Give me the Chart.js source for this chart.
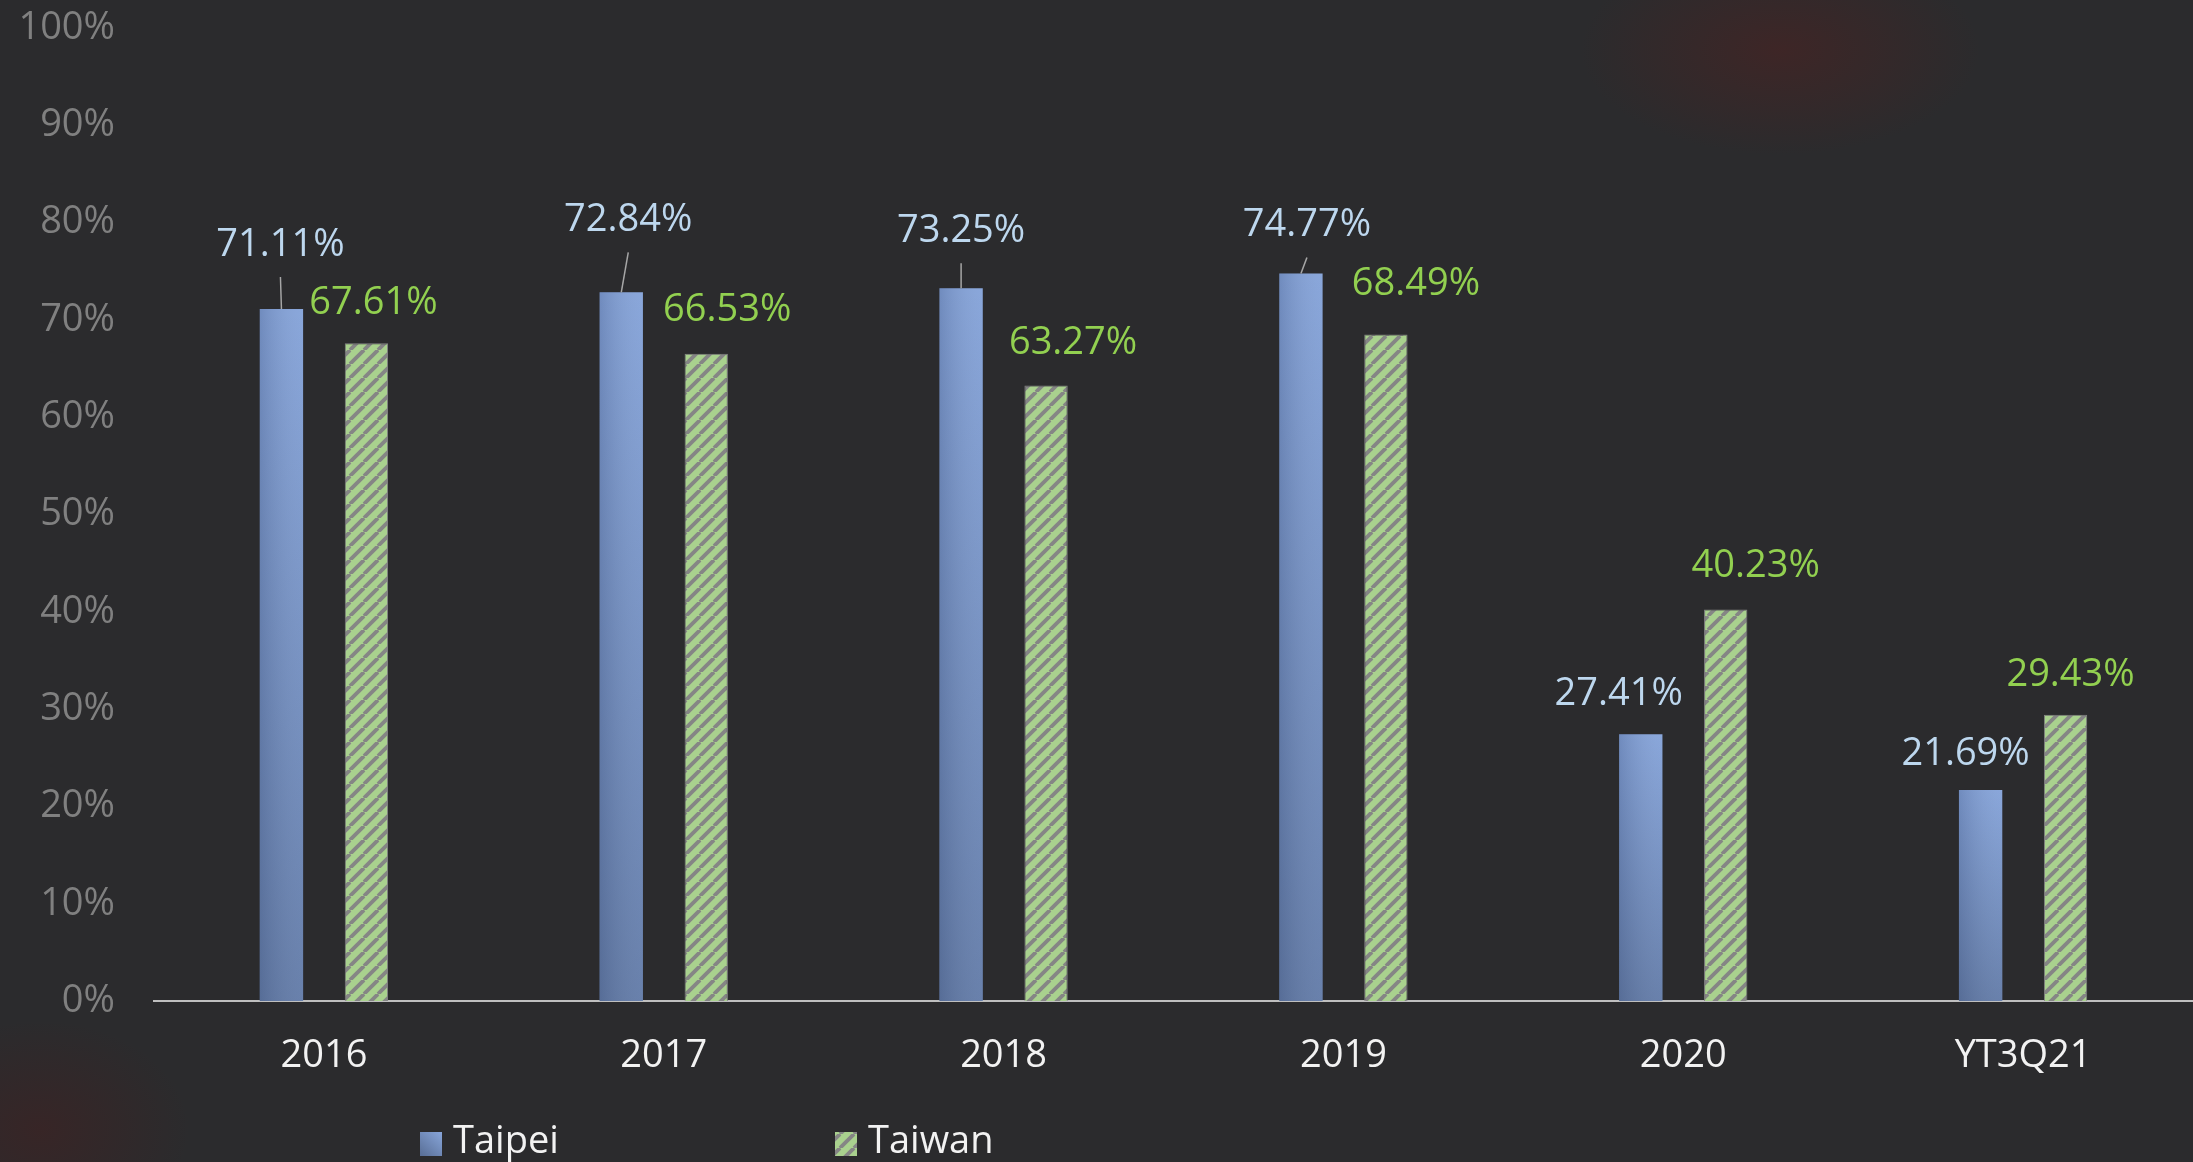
<!DOCTYPE html>
<html>
<head>
<meta charset="utf-8">
<title>Taipei vs Taiwan</title>
<script src="https://cdn.jsdelivr.net/npm/chart.js@4.4.0/dist/chart.umd.min.js"></script>
<style>
  html, body { margin: 0; padding: 0; width: 2193px; height: 1162px; overflow: hidden; }
  body {
    background:
      radial-gradient(ellipse 200px 105px at 1780px 50px, rgba(68, 36, 36, 0.75), rgba(68, 36, 36, 0) 100%),
      radial-gradient(ellipse 150px 110px at 40px 1130px, rgba(70, 30, 30, 0.45), rgba(70, 30, 30, 0) 100%),
      #2b2b2d;
  }
  #grafico { position: absolute; left: 0; top: 0; }
</style>
</head>
<body>
<canvas id="grafico" width="2193" height="1162"></canvas>
<script>
const categories = ["2016", "2017", "2018", "2019", "2020", "YT3Q21"];
const taipeiValues = [71.11, 72.84, 73.25, 74.77, 27.41, 21.69];
const taiwanValues = [67.61, 66.53, 63.27, 68.49, 40.23, 29.43];
const yTickValues = [0, 10, 20, 30, 40, 50, 60, 70, 80, 90, 100];

// where each data label was left, relative to the top of its bar (dx, dy, leader line)
const taipeiLabelNudge = [[-1, -64, true], [7, -72, true], [0, -57, true], [6, -48, true], [-22, -40], [-15, -36]];
const taiwanLabelNudge = [[7, -40], [21, -43], [27, -42], [30, -50], [30, -43], [5, -39]];

const FONT = "'Open Sans', 'Noto Sans', sans-serif";

// hatch for the Taiwan bars: green with grey "/" stripes
function hatchPattern() {
    const s = 14;
    const c = document.createElement("canvas");
    c.width = s; c.height = s;
    const g = c.getContext("2d");
    g.fillStyle = "#a9d18e";
    g.fillRect(0, 0, s, s);
    g.strokeStyle = "#858585";
    g.lineWidth = 3.8;
    for (let o = -1; o <= 1; o++) {
        g.beginPath();
        g.moveTo(o * s, s);
        g.lineTo(o * s + s, 0);
        g.stroke();
    }
    return g.createPattern(c, "repeat");
}

const canvas = document.getElementById("grafico");
const ctx = canvas.getContext("2d");
const hatch = hatchPattern();

// Taipei bars: light on the right, darker to the left and towards the bottom
const barShade = {
    id: "barShade",
    afterDatasetDraw(chart, args) {
        if (args.index !== 0) return;
        const c = chart.ctx;
        c.save();
        args.meta.data.forEach(bar => {
            const { x, y, base, width } = bar.getProps(["x", "y", "base", "width"], true);
            const left = x - width / 2;
            const h = c.createLinearGradient(left, 0, left + width, 0);
            h.addColorStop(0, "rgba(30, 40, 70, 0.18)");
            h.addColorStop(1, "rgba(255, 255, 255, 0.06)");
            c.fillStyle = h;
            c.fillRect(left, y, width, base - y);
            const v = c.createLinearGradient(0, y, 0, base);
            v.addColorStop(0, "rgba(20, 30, 50, 0)");
            v.addColorStop(1, "rgba(20, 30, 50, 0.28)");
            c.fillStyle = v;
            c.fillRect(left, y, width, base - y);
        });
        c.restore();
    }
};

const barLabels = {
    id: "barLabels",
    afterDatasetsDraw(chart) {
        const c = chart.ctx;
        c.save();
        c.font = "38px " + FONT;
        c.textAlign = "center";
        c.textBaseline = "middle";
        chart.data.datasets.forEach((ds, di) => {
            chart.getDatasetMeta(di).data.forEach((bar, i) => {
                const [dx, dy, leader] = ds.labelNudge[i];
                const lx = bar.x + dx, ly = bar.y + dy;
                if (leader) {
                    c.strokeStyle = "#a6a6a6";
                    c.lineWidth = 1.5;
                    c.beginPath();
                    c.moveTo(bar.x, bar.y);
                    c.lineTo(lx, ly + 32);
                    c.stroke();
                }
                c.fillStyle = ds.labelColor;
                c.fillText(ds.data[i].toFixed(2) + "%", lx, ly);
            });
        });
        c.restore();
    }
};

const bottomLegend = {
    id: "bottomLegend",
    afterDraw(chart, args, opts) {
        const c = chart.ctx;
        c.save();
        c.font = "38px " + FONT;
        c.textAlign = "left";
        c.textBaseline = "middle";
        chart.data.datasets.forEach((ds, i) => {
            const x = opts.x[i], y = opts.y;
            if (i === 0) {
                const g = c.createLinearGradient(x, y + 12, x + 22, y - 12);
                g.addColorStop(0, "#5a7098");
                g.addColorStop(1, "#8aa8dd");
                c.fillStyle = g;
            } else {
                c.fillStyle = ds.backgroundColor;
            }
            c.fillRect(x, y - 10, 22, 24);
            c.fillStyle = "#f2f2f2";
            c.fillText(ds.label, x + 33, y);
        });
        c.restore();
    }
};

new Chart(ctx, {
    type: "bar",
    data: {
        labels: categories,
        datasets: [{
            label: "Taipei",
            data: taipeiValues,
            backgroundColor: "#82a1d8",
            borderWidth: 0,
            categoryPercentage: 0.5,
            barPercentage: 0.51,
            labelColor: "#bdd7ee",
            labelNudge: taipeiLabelNudge
        }, {
            label: "Taiwan",
            data: taiwanValues,
            backgroundColor: hatch,
            borderColor: "#858585",
            borderWidth: 1,
            borderSkipped: "bottom",
            categoryPercentage: 0.5,
            barPercentage: 0.51,
            labelColor: "#92d050",
            labelNudge: taiwanLabelNudge
        }]
    },
    options: {
        responsive: false,
        animation: false,
        layout: { padding: { top: 28, left: 0, right: 0, bottom: 0 } },
        plugins: {
            legend: { display: false },
            tooltip: { enabled: false },
            bottomLegend: { x: [420, 835], y: 1142 }
        },
        scales: {
            x: {
                grid: { display: false, drawTicks: false },
                border: { display: true, color: "#bfbfbf", width: 2 },
                ticks: { color: "#f2f2f2", font: { family: FONT, size: 38 }, padding: 32 },
                afterFit: s => { s.height = 161; s.paddingLeft = 0; s.paddingRight = 0; }
            },
            y: {
                min: 0,
                max: 100,
                grid: { display: false, drawTicks: false },
                border: { display: false },
                afterBuildTicks: s => { s.ticks = yTickValues.map(v => ({ value: v })); },
                ticks: {
                    color: "#808080",
                    font: { family: FONT, size: 38 },
                    padding: 39,
                    callback: v => v + "%"
                },
                afterFit: s => { s.width = 154; s.paddingTop = 0; s.paddingBottom = 0; }
            }
        }
    },
    plugins: [barShade, barLabels, bottomLegend]
});
</script>
</body>
</html>
